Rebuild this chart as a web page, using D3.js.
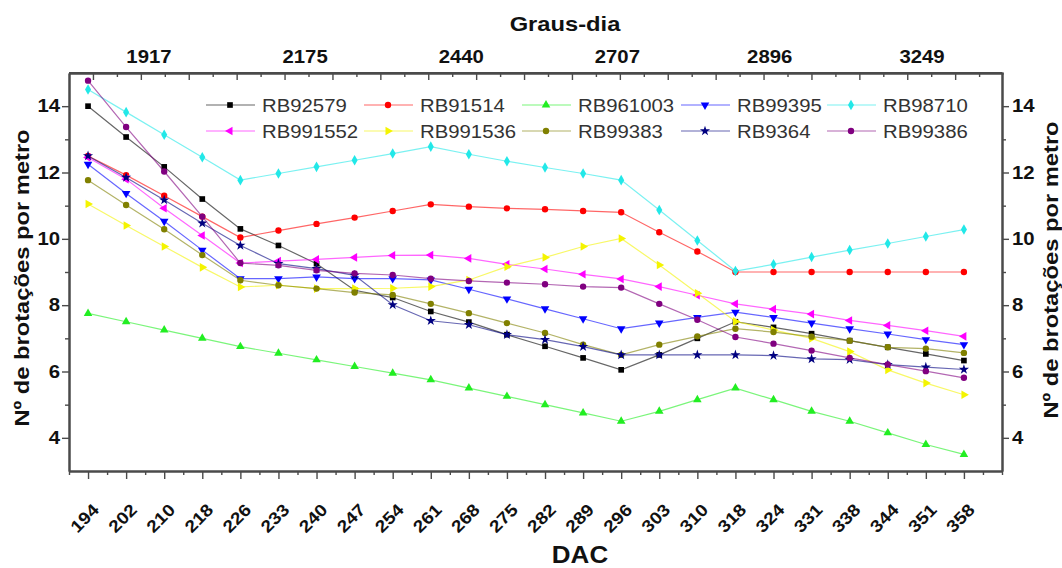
<!DOCTYPE html>
<html>
<head>
<meta charset="utf-8">
<script src="https://cdn.jsdelivr.net/npm/d3@7"></script>
<style>
  body { margin: 0; background: #fff; }
  svg { display: block; font-family: "Liberation Sans", Arial, sans-serif; }
</style>
</head>
<body>
<svg id="chart" width="1062" height="568"></svg>
<script>
// DAC categories (bottom axis) and graus-dia labels (top axis)
const dac = [194, 202, 210, 218, 226, 233, 240, 247, 254, 261, 268, 275,
             282, 289, 296, 303, 310, 318, 324, 331, 338, 344, 351, 358];
const grausDia = ["1917", "2175", "2440", "2707", "2896", "3249"];
const grausDiaAt = [1.6, 5.7, 9.8, 13.9, 17.9, 21.9];   // position on the DAC index

const cultivars = ["RB92579", "RB91514", "RB961003", "RB99395", "RB98710",
                   "RB991552", "RB991536", "RB99383", "RB9364", "RB99386"];

const rb92579  = [14.0, 13.07, 12.17, 11.2, 10.3, 9.8, 9.25, 8.45, 8.23, 7.81, 7.49, 7.11,
                  6.76, 6.41, 6.05, 6.5, 7.0, 7.5, 7.33, 7.14, 6.93, 6.73, 6.53, 6.33];
const rb91514  = [12.5, 11.92, 11.3, 10.67, 10.04, 10.25, 10.45, 10.64, 10.84, 11.04, 10.97, 10.92,
                  10.89, 10.84, 10.8, 10.2, 9.62, 9.0, 9.0, 9.0, 9.0, 9.0, 9.0, 9.0];
const rb961003 = [7.75, 7.5, 7.25, 7.0, 6.75, 6.55, 6.35, 6.15, 5.95, 5.75, 5.5, 5.25,
                  5.0, 4.75, 4.5, 4.8, 5.15, 5.5, 5.15, 4.8, 4.5, 4.15, 3.8, 3.5];
const rb99395  = [12.25, 11.37, 10.53, 9.66, 8.8, 8.8, 8.85, 8.8, 8.8, 8.76, 8.48, 8.19,
                  7.89, 7.59, 7.29, 7.46, 7.63, 7.79, 7.63, 7.46, 7.29, 7.13, 6.96, 6.81];
const rb98710  = [14.5, 13.82, 13.14, 12.46, 11.77, 11.97, 12.17, 12.37, 12.57, 12.78, 12.55, 12.34,
                  12.15, 11.97, 11.77, 10.87, 9.95, 9.03, 9.23, 9.45, 9.66, 9.86, 10.07, 10.28];
const rb991552 = [12.45, 11.8, 10.92, 10.1, 9.27, 9.33, 9.38, 9.44, 9.5, 9.51, 9.41, 9.23,
                  9.09, 8.93, 8.79, 8.56, 8.3, 8.04, 7.88, 7.73, 7.54, 7.39, 7.23, 7.06];
const rb991536 = [11.05, 10.4, 9.77, 9.14, 8.55, 8.6, 8.5, 8.5, 8.51, 8.56, 8.76, 9.16,
                  9.44, 9.77, 10.01, 9.21, 8.36, 7.51, 7.25, 7.0, 6.6, 6.05, 5.65, 5.3];
const rb99383  = [11.77, 11.02, 10.29, 9.51, 8.75, 8.6, 8.5, 8.38, 8.31, 8.04, 7.76, 7.46,
                  7.16, 6.81, 6.5, 6.81, 7.06, 7.29, 7.19, 7.05, 6.93, 6.73, 6.69, 6.56];
const rb9364   = [12.5, 11.85, 11.17, 10.47, 9.8, 9.25, 9.1, 8.9, 8.01, 7.53, 7.41, 7.11,
                  6.96, 6.75, 6.5, 6.5, 6.5, 6.5, 6.48, 6.38, 6.36, 6.21, 6.13, 6.06];
const rb99386  = [14.77, 13.37, 12.03, 10.67, 9.27, 9.2, 9.05, 8.96, 8.91, 8.8, 8.73, 8.68,
                  8.63, 8.56, 8.53, 8.04, 7.56, 7.04, 6.84, 6.63, 6.41, 6.21, 6.01, 5.81];

const seriesValues = [rb92579, rb91514, rb961003, rb99395, rb98710,
                      rb991552, rb991536, rb99383, rb9364, rb99386];

// styling per series (origin default-ish colours and symbols)
const colors = ["#000000", "#ff0000", "#22ee22", "#0000ff", "#22e8e8",
                "#ff00ff", "#f4f400", "#808000", "#000080", "#800080"];
const symbols = [d3.symbolSquare, d3.symbolCircle, d3.symbolTriangle, d3.symbolTriangle, d3.symbolDiamond,
                 d3.symbolTriangle, d3.symbolTriangle, d3.symbolCircle, d3.symbolStar, d3.symbolCircle];
const rotations = [0, 0, 0, 180, 0, -90, 90, 0, 0, 0];

const series = cultivars.map((name, k) => ({
    name: name,
    color: colors[k],
    symbol: symbols[k],
    rot: rotations[k],
    points: seriesValues[k].map((v, i) => ({ i: i, v: v }))
}));

const svg = d3.select("#chart");
const plot = { left: 69, right: 1002, top: 73, bottom: 471 };
const stretch = 1.13;   // text in the reference is a bit wider than Arial
const axisColor = "#4a4a4a";

const x = d3.scaleLinear().domain([-0.5, 24]).range([plot.left, plot.right]);
const y = d3.scaleLinear().domain([3, 15]).range([plot.bottom, plot.top]);
const xTop = d3.scaleLinear().domain([0, 39]).range([plot.left, plot.left + 39 * 23.95]);

function label(g, tx, ty, txt, size, weight, anchor, rot) {
    return g.append("text")
            .attr("transform", `translate(${tx},${ty})` + (rot ? ` rotate(${rot})` : "") + ` scale(${stretch},1)`)
            .attr("text-anchor", anchor)
            .attr("font-size", size)
            .attr("font-weight", weight)
            .attr("fill", "#111")
            .text(txt);
}

// ---------- axes ----------
const axes = svg.append("g").attr("id", "axes");

function styleAxis(g) {
    g.selectAll("path, line").attr("stroke", axisColor).attr("stroke-width", 1.4);
    g.select(".domain").attr("stroke-width", 2);
    g.selectAll("text").remove();
}

const dacIdx = d3.range(dac.length);
const dacMinor = d3.range(-0.5, 24.01, 0.5).filter(d => !Number.isInteger(d) || d > 23);

axes.append("g").attr("transform", `translate(0,${plot.bottom})`)
    .call(d3.axisBottom(x).tickValues(dacIdx).tickSize(8).tickSizeOuter(0))
    .call(styleAxis);
axes.append("g").attr("transform", `translate(0,${plot.bottom})`)
    .call(d3.axisBottom(x).tickValues(dacMinor).tickSize(4).tickSizeOuter(0))
    .call(styleAxis);

axes.append("g").attr("transform", `translate(0,${plot.top})`)
    .call(d3.axisBottom(xTop).tickValues(d3.range(1, 39, 2)).tickSize(7).tickSizeOuter(0))
    .call(styleAxis);
axes.append("g").attr("transform", `translate(0,${plot.top})`)
    .call(d3.axisBottom(xTop).tickValues(d3.range(2, 39, 2)).tickSize(4).tickSizeOuter(0))
    .call(styleAxis);
axes.append("line")
    .attr("x1", plot.left).attr("x2", plot.right)
    .attr("y1", plot.top).attr("y2", plot.top)
    .attr("stroke", axisColor).attr("stroke-width", 2);

const yMajor = [4, 6, 8, 10, 12, 14];
const yMinor = [5, 7, 9, 11, 13];
[[d3.axisLeft, plot.left], [d3.axisRight, plot.right]].forEach(([ax, px]) => {
    axes.append("g").attr("transform", `translate(${px},0)`)
        .call(ax(y).tickValues(yMajor).tickSize(7).tickSizeOuter(0))
        .call(styleAxis);
    axes.append("g").attr("transform", `translate(${px},0)`)
        .call(ax(y).tickValues(yMinor).tickSize(4).tickSizeOuter(0))
        .call(styleAxis);
});

// tick labels
const labels = svg.append("g").attr("id", "labels");
dac.forEach((d, i) => label(labels, x(i) + 12, plot.bottom + 40, d, 17, "bold", "end", -45));
yMajor.forEach(v => {
    label(labels, plot.left - 9, y(v) + 6, v, 18, "bold", "end");
    label(labels, plot.right + 10, y(v) + 6, v, 18, "bold", "start");
});
grausDia.forEach((g, k) => label(labels, x(grausDiaAt[k]), 63, g, 18, "bold", "middle"));

// axis titles
label(labels, 565, 31, "Graus-dia", 21, "bold", "middle");
label(labels, 580, 563, "DAC", 23, "bold", "middle");
label(labels, 29, 278, "Nº de brotações por metro", 21, "bold", "middle", -90);
label(labels, 1058, 270, "Nº de brotações por metro", 21, "bold", "middle", -90);

// ---------- series ----------
const line = d3.line().x(d => x(d.i)).y(d => y(d.v));
const seriesG = svg.append("g").attr("id", "series");

series.forEach(s => {
    const g = seriesG.append("g");
    g.append("path")
     .datum(s.points)
     .attr("d", line)
     .attr("fill", "none")
     .attr("stroke", s.color)
     .attr("stroke-opacity", 0.6)
     .attr("stroke-width", 1.2);
    g.selectAll("path.pt")
     .data(s.points)
     .join("path")
     .attr("class", "pt")
     .attr("d", d3.symbol().type(s.symbol).size(32))
     .attr("transform", d => `translate(${x(d.i)},${y(d.v)}) rotate(${s.rot})`)
     .attr("fill", s.color);
});

// ---------- legend ----------
const legendTextX = [262, 420, 578, 737, 883];
const legendRowY = [105, 131];
const legend = svg.append("g").attr("id", "legend");
series.forEach((s, k) => {
    const tx = legendTextX[k % 5];
    const ty = legendRowY[Math.floor(k / 5)];
    legend.append("line")
          .attr("x1", tx - 56).attr("x2", tx - 7)
          .attr("y1", ty).attr("y2", ty)
          .attr("stroke", s.color).attr("stroke-opacity", 0.6).attr("stroke-width", 1.2);
    legend.append("path")
          .attr("d", d3.symbol().type(s.symbol).size(32))
          .attr("transform", `translate(${tx - 32},${ty}) rotate(${s.rot})`)
          .attr("fill", s.color);
    label(legend, tx, ty + 7, s.name, 18, "normal", "start").attr("fill", "#333");
});
</script>
</body>
</html>
